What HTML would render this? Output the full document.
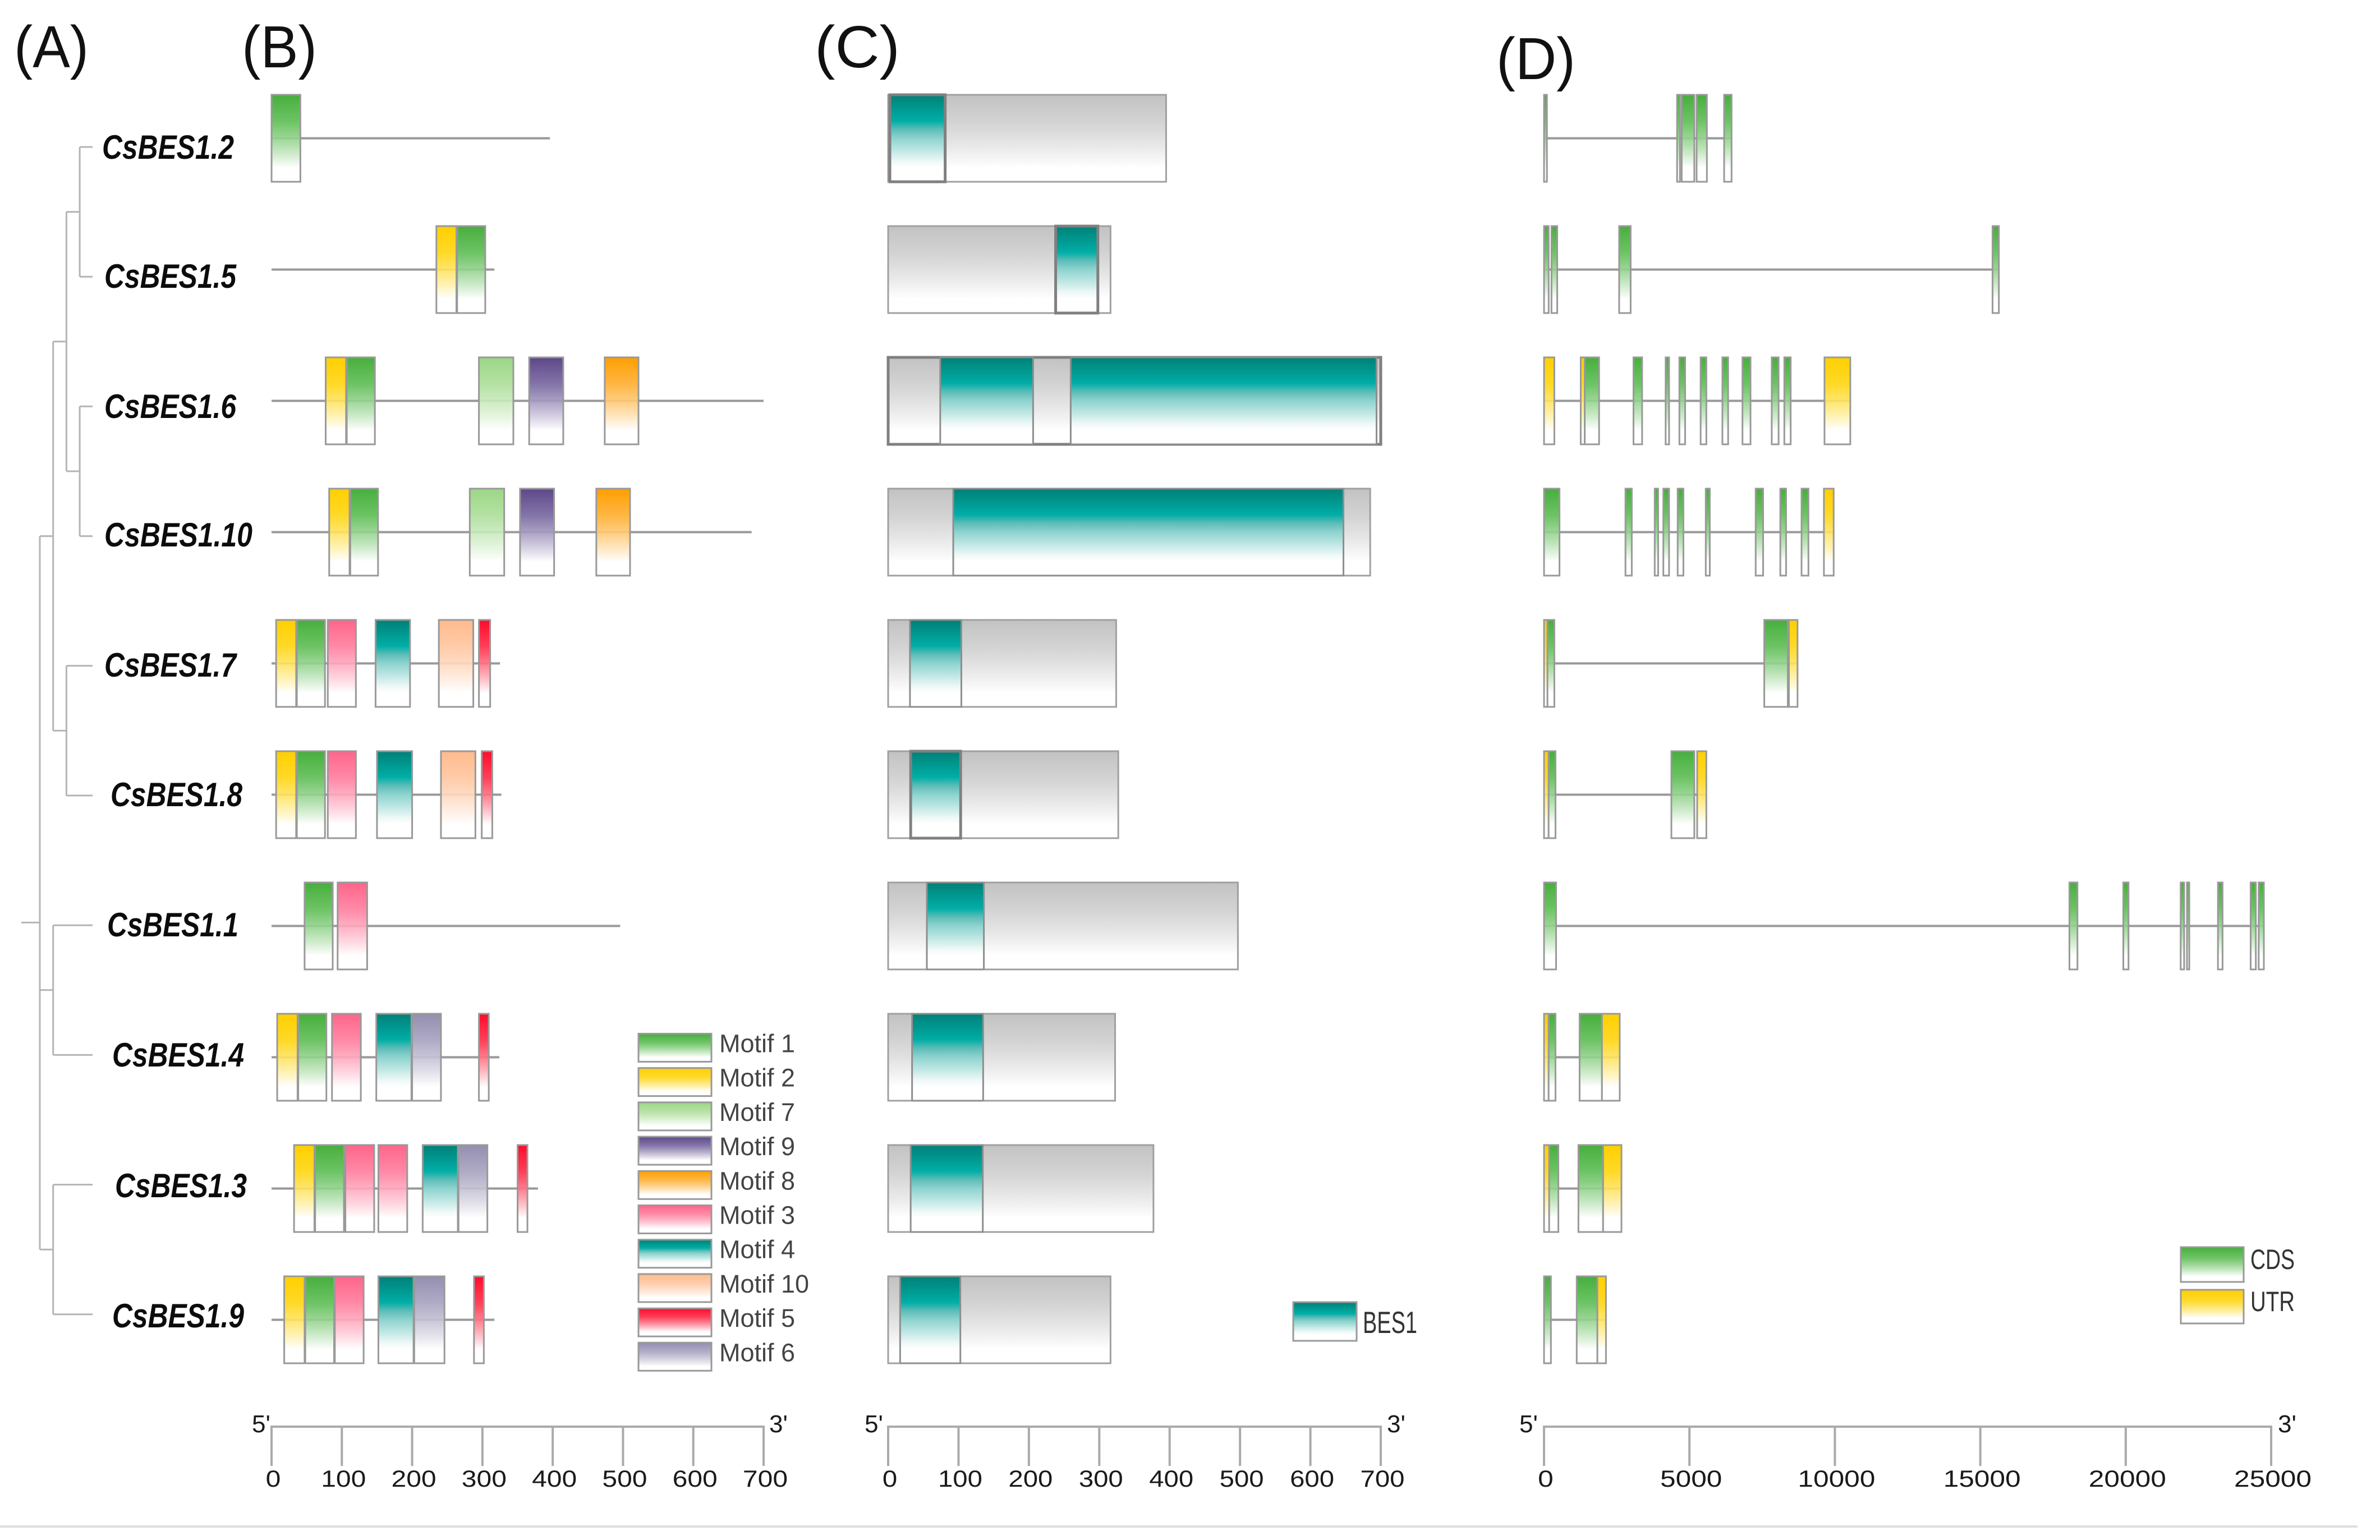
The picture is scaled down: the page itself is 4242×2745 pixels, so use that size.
<!DOCTYPE html>
<html lang="en">
<head>
<meta charset="utf-8">
<title>CsBES1 gene family structure</title>
<style>
html,body{margin:0;padding:0;background:#fff;width:4242px;height:2745px;overflow:hidden}
svg{display:block;font-family:"Liberation Sans",sans-serif}
.panel{font-size:106px;fill:#111}
.gene{font-size:60px;font-weight:bold;font-style:italic;fill:#0c0c0c}
</style>
</head>
<body>
<svg id="chart" xmlns="http://www.w3.org/2000/svg" width="4242" height="2745" viewBox="0 0 4242 2745">
<defs id="defs"></defs>
<rect width="4242" height="2745" fill="#fff"/>
<g>
<text class="panel" x="25" y="120" textLength="133" lengthAdjust="spacingAndGlyphs">(A)</text>
<text class="panel" x="431" y="120" textLength="134" lengthAdjust="spacingAndGlyphs">(B)</text>
<text class="panel" x="1452" y="120" textLength="152" lengthAdjust="spacingAndGlyphs">(C)</text>
<text class="panel" x="2667" y="141" textLength="141" lengthAdjust="spacingAndGlyphs">(D)</text>
</g>
<g>
<text class="gene" x="182" y="283" textLength="235" lengthAdjust="spacingAndGlyphs">CsBES1.2</text>
<text class="gene" x="186" y="513" textLength="235" lengthAdjust="spacingAndGlyphs">CsBES1.5</text>
<text class="gene" x="186" y="745" textLength="235" lengthAdjust="spacingAndGlyphs">CsBES1.6</text>
<text class="gene" x="186" y="974" textLength="264" lengthAdjust="spacingAndGlyphs">CsBES1.10</text>
<text class="gene" x="186" y="1206" textLength="235" lengthAdjust="spacingAndGlyphs">CsBES1.7</text>
<text class="gene" x="197" y="1437" textLength="235" lengthAdjust="spacingAndGlyphs">CsBES1.8</text>
<text class="gene" x="191" y="1669" textLength="234" lengthAdjust="spacingAndGlyphs">CsBES1.1</text>
<text class="gene" x="200" y="1901" textLength="235" lengthAdjust="spacingAndGlyphs">CsBES1.4</text>
<text class="gene" x="205" y="2134" textLength="235" lengthAdjust="spacingAndGlyphs">CsBES1.3</text>
<text class="gene" x="200" y="2366" textLength="235" lengthAdjust="spacingAndGlyphs">CsBES1.9</text>
</g>
<g id="tree"></g>
<g id="panelB"></g>
<g id="panelC"></g>
<g id="panelD"></g>
<g id="axes"></g>
<g id="legends"></g>
<rect x="0" y="2719" width="4202" height="4" fill="#dedede"/>
</svg>
<script>
const genes = ['CsBES1.2','CsBES1.5','CsBES1.6','CsBES1.10','CsBES1.7','CsBES1.8','CsBES1.1','CsBES1.4','CsBES1.3','CsBES1.9'];

/* Panel A: topology, leaves are gene indexes */
const treeTopology = [[[[0,1],[2,3]],[4,5]],[6,7],[8,9]];

/* Panel B: motif hits [motif number, start aa, end aa] */
const motifLineLengths = [396,317,700,683,325,327,496,324,379,317];
const motifHits = [
  [[1,0,41]],
  [[2,234.5,263],[1,264,304]],
  [[2,77,106],[1,107,147],[7,295,344],[9,366.5,415],[8,474,522]],
  [[2,82,111],[1,112,151.5],[7,282,331],[9,353.5,402],[8,462,510]],
  [[2,6.5,35],[1,36,76],[3,80,120],[4,148,197],[10,238,287],[5,295,311]],
  [[2,6.5,35],[1,36,76],[3,80,120],[4,150,200],[10,241,290],[5,299,314]],
  [[1,47,87],[3,94,136]],
  [[2,8,37],[1,38,78],[3,86,127],[4,149,199],[6,200,241],[5,295,309]],
  [[2,32,61],[1,62,103],[3,105,146],[3,152,193],[4,215,265],[6,266,307],[5,350,364]],
  [[2,18,47],[1,48,89],[3,90,131],[4,152,202],[6,203,246],[5,288,302]]
];

/* Panel C: protein length and BES1 domain spans [start aa, end aa] */
const proteinLengths = [395,316,700,685,324,327,497,322.5,377,316];
const domainHits = [
  [[2.4,81]],
  [[238,298]],
  [[74,206],[259.4,694]],
  [[92.5,647]],
  [[31,104]],
  [[32,103]],
  [[55,136]],
  [[34,135]],
  [[32,134.5]],
  [[17,102.6]]
];
const heavyBodyRows = [2];
const heavyDomainRows = [0,1,5];

/* Panel D: gene features [type, start bp, end bp] */
const geneFeatures = [
  [['C',0,100],['C',4575,4674],['C',4733,5167],['C',5246,5600],['C',6192,6448]],
  [['C',0,160],['C',256,454],['C',2583,2978],['C',15421,15638]],
  [['U',0,355],['U',1262,1400],['C',1400,1893],['C',3076,3372],['C',4181,4299],['C',4654,4851],['C',5384,5581],['C',6133,6330],['C',6823,7099],['C',7829,8065],['C',8262,8480],['U',9643,10530]],
  [['C',0,532],['C',2800,3017],['C',3806,3924],['C',4102,4299],['C',4595,4792],['C',5561,5699],['C',7277,7533],['C',8124,8322],['C',8854,9091],['U',9623,9958]],
  [['U',0,118],['C',118,355],['C',7572,8381],['U',8420,8716]],
  [['U',0,158],['C',158,394],['C',4378,5167],['U',5265,5581]],
  [['C',0,414],['C',18064,18340],['C',19917,20095],['C',21889,22008],['C',22106,22185],['C',23171,23329],['C',24295,24473],['C',24571,24749]],
  [['U',0,158],['C',158,394],['C',1223,1992],['U',1992,2603]],
  [['U',0,177],['C',177,493],['C',1183,2031],['U',2031,2662]],
  [['C',0,237],['C',1124,1834],['U',1834,2130]]
];

/* Axis ticks */
const aaTicks = [0,100,200,300,400,500,600,700];
const bpTicks = [0,5000,10000,15000,20000,25000];

/* Legends */
const motifLegendOrder = [1,2,7,9,8,3,4,10,5,6];

/* Colour styles */
const fills = {
  m1:['#46ae3c','#52b848'], m2:['#ffcf00','#ffd200'], m7:['#9bd685','#a6dc92'], m9:['#5c4788','#6c5a98'],
  m8:['#ff9f00','#ffa820'], m3:['#ff6489','#ff7396'], m4:['#008077','#00aea6'], m10:['#ffba8c','#ffc198'],
  m5:['#ff0a2a','#ff1c3a'], m6:['#948eb0','#a09bba'], grey:['#c2c2c2','#cacaca'], C:['#46ae3c','#52b848'], U:['#ffcf00','#ffd200']
};

const NS = 'http://www.w3.org/2000/svg';
const STROKE = '#999';
function make(parent, tag, attrs, text) {
  const node = document.createElementNS(NS, tag);
  Object.keys(attrs).forEach(function (k) { node.setAttribute(k, attrs[k]); });
  if (text !== undefined) node.textContent = text;
  parent.appendChild(node);
  return node;
}
function slug(s) { return s.toLowerCase().replace(/\./g, '-'); }

const defs = document.getElementById('defs');
Object.keys(fills).forEach(function (key) {
  const g = make(defs, 'linearGradient', { id: 'grad-' + key, x1: 0, y1: 0, x2: 0, y2: 1 });
  make(g, 'stop', { offset: '0', 'stop-color': fills[key][0] });
  if (key === 'm4') {
    make(g, 'stop', { offset: '0.3', 'stop-color': fills[key][1] });
    make(g, 'stop', { offset: '0.4', 'stop-color': '#5fbdb8' });
    make(g, 'stop', { offset: '0.5', 'stop-color': '#8ed3cf' });
    make(g, 'stop', { offset: '0.62', 'stop-color': '#b8e4e1' });
    make(g, 'stop', { offset: '0.77', 'stop-color': '#f0f9f8' });
  } else {
    make(g, 'stop', { offset: '0.3', 'stop-color': fills[key][1], 'stop-opacity': 0.85 });
  }
  make(g, 'stop', { offset: '0.84', 'stop-color': '#fff' });
});

/* Shared scales */
const rowTop = function (i) { return 169 + 234 * i; };
const ROW_H = 155;
const bX = function (v) { return 484 + v * (1361 - 484) / 700; };
const cX = function (v) { return 1583 + v * (2461 - 1583) / 700; };
const dX = function (v) { return 2752 + v * (4048 - 2752) / 25000; };
const tipY = function (i) { return 262 + 231.2 * i; };
const treeX = function (depth) { return 71 + 23.7 * depth; };

/* Panel A */
const treeG = document.getElementById('tree');
function treeLine(x1, y1, x2, y2) {
  const l = make(treeG, 'line', { x1: x1, y1: y1, x2: x2, y2: y2, stroke: '#b4b4b4', 'stroke-width': 3 });
  
  
}
function drawNode(node, depth) {
  const x = treeX(depth);
  if (typeof node === 'number') {
    treeLine(treeX(depth - 1), tipY(node), 165, tipY(node));
    return tipY(node);
  }
  const ys = node.map(function (c) { return drawNode(c, depth + 1); });
  const top = Math.min.apply(null, ys), bottom = Math.max.apply(null, ys);
  treeLine(x, top, x, bottom);
  const y = (top + bottom) / 2;
  if (depth > 0) treeLine(treeX(depth - 1), y, x, y);
  return y;
}
const rootMid = drawNode(treeTopology, 0);
treeLine(38, rootMid + 53, treeX(0), rootMid + 53);

/* Box helper */
function drawBox(parent, key, x1, x2, y, h, strokeColor, strokeWidth) {
  return make(parent, 'rect', {
    x: x1, y: y, width: Math.max(x2 - x1, 1), height: h,
    fill: 'url(#grad-' + key + ')', stroke: strokeColor || STROKE, 'stroke-width': strokeWidth || 3
  });
}

/* Panel B */
const panelB = document.getElementById('panelB');
genes.forEach(function (gene, i) {
  const y = rowTop(i);
  const row = make(panelB, 'g', {});
  
  
  const line = make(row, 'line', { x1: bX(0), x2: bX(motifLineLengths[i]), y1: y + ROW_H / 2, y2: y + ROW_H / 2, stroke: STROKE, 'stroke-width': 4 });
  
  
  motifHits[i].forEach(function (hit) {
    const box = drawBox(row, 'm' + hit[0], bX(hit[1]), bX(hit[2]), y, ROW_H);
    
    
  });
});

/* Panel C */
const panelC = document.getElementById('panelC');
genes.forEach(function (gene, i) {
  const y = rowTop(i);
  const row = make(panelC, 'g', {});
  
  
  const heavyBody = heavyBodyRows.indexOf(i) >= 0;
  const body = drawBox(row, 'grey', cX(0), cX(proteinLengths[i]), y, ROW_H, heavyBody ? '#808080' : '#a0a0a0', heavyBody ? 5 : 3);
  
  
  const heavyDomain = heavyDomainRows.indexOf(i) >= 0;
  domainHits[i].forEach(function (hit) {
    const box = drawBox(row, 'm4', cX(hit[0]), cX(hit[1]), y, ROW_H, heavyDomain ? '#808080' : '#8e8e8e', heavyDomain ? 5 : 3);
    
    
  });
});

/* Panel D */
const panelD = document.getElementById('panelD');
genes.forEach(function (gene, i) {
  const y = rowTop(i);
  const feats = geneFeatures[i];
  const row = make(panelD, 'g', {});
  
  
  const intron = make(row, 'line', { x1: dX(feats[0][1]), x2: dX(feats[feats.length - 1][2]), y1: y + ROW_H / 2, y2: y + ROW_H / 2, stroke: STROKE, 'stroke-width': 4 });
  
  
  feats.forEach(function (f) {
    const box = drawBox(row, f[0], dX(f[1]), dX(f[2]), y, ROW_H);
    
    
  });
});

/* Axes */
const axesG = document.getElementById('axes');
function drawAxis(name, ticks, scale, charW, x5, x3) {
  const g = make(axesG, 'g', {});
  
  
  const baseline = make(g, 'line', { x1: scale(ticks[0]) - 2, x2: scale(ticks[ticks.length - 1]) + 2, y1: 2543, y2: 2543, stroke: '#aaa', 'stroke-width': 4 });
  
  
  ticks.forEach(function (t) {
    const tick = make(g, 'line', { x1: scale(t), x2: scale(t), y1: 2543, y2: 2613, stroke: '#aaa', 'stroke-width': 4 });
    
    
    const label = String(t);
    const txt = make(g, 'text', {
      x: scale(t) + 3, y: 2650, 'text-anchor': 'middle', 'font-size': 42, fill: '#1a1a1a',
      textLength: label.length * charW, lengthAdjust: 'spacingAndGlyphs'
    }, label);
    
    
  });
  const five = make(g, 'text', { x: x5, y: 2553, 'font-size': 44, fill: '#1a1a1a' }, "5'");
  
  
  const three = make(g, 'text', { x: x3, y: 2553, 'font-size': 44, fill: '#1a1a1a' }, "3'");
  
  
}
drawAxis('motif-axis', aaTicks, bX, 26.7, 449, 1371);
drawAxis('domain-axis', aaTicks, cX, 26.3, 1541, 2472);
drawAxis('gene-axis', bpTicks, dX, 27.6, 2708, 4060);

/* Legends */
const legendsG = document.getElementById('legends');
motifLegendOrder.forEach(function (m, i) {
  const y = 1842.5 + 61.2 * i;
  const g = make(legendsG, 'g', {});
  
  
  const swatch = drawBox(g, 'm' + m, 1138, 1268, y, 50);
  
  
  const t = make(g, 'text', { x: 1282, y: y + 33, 'font-size': 45, fill: '#444' }, 'Motif ' + m);
  
  
});
function bigLegend(name, key, label, x1, x2, y, h, tx, ty, tw, fs) {
  const g = make(legendsG, 'g', {});
  
  
  const swatch = drawBox(g, key, x1, x2, y, h);
  
  
  const t = make(g, 'text', { x: tx, y: ty, 'font-size': fs, fill: '#333', textLength: tw, lengthAdjust: 'spacingAndGlyphs' }, label);
  
  
}
bigLegend('legend-entry-bes1', 'm4', 'BES1', 2305, 2418, 2321, 69, 2429, 2376, 97, 55);
bigLegend('legend-entry-cds', 'C', 'CDS', 3887, 3999, 2223, 62, 4011, 2262, 79, 50);
bigLegend('legend-entry-utr', 'U', 'UTR', 3887, 3999, 2299, 60, 4011, 2337, 79, 50);
</script>
</body>
</html>
